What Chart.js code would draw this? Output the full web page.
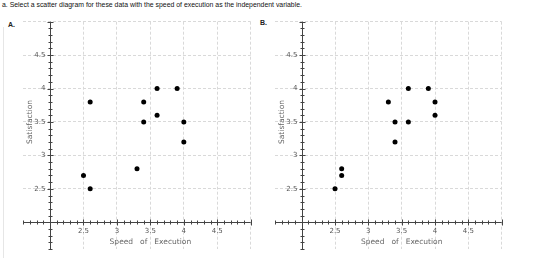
<!DOCTYPE html>
<html>
<head>
    <meta charset="utf-8">
    <title>Scatter diagrams</title>
    <style>
        body { margin: 0; width: 560px; height: 260px; background: #fff; position: relative; overflow: hidden; }
        .q { position: absolute; left: 2px; top: 1px; font: 6.9px "Liberation Sans", Arial, sans-serif; color: #111; white-space: nowrap; }
        .lbl { position: absolute; font: bold 7px "Liberation Sans", Arial, sans-serif; color: #222; }
        canvas { position: absolute; top: 0; }
        .frame { position: absolute; left: 3px; top: 27px; width: 0; height: 231px; border-left: 1px solid #e6e6e6; }
    </style>
    <script src="https://cdn.jsdelivr.net/npm/chart.js"></script>
</head>
<body>
    <div class="q">a. Select a scatter diagram for these data with the speed of execution as the independent variable.</div>
    <div class="frame"></div>
    <div class="lbl" style="left:8px;top:21px;">A.</div>
    <div class="lbl" style="left:260px;top:19px;">B.</div>
    <canvas id="chartA" width="280" height="260" style="left:0px"></canvas>
    <canvas id="chartB" width="300" height="260" style="left:260px"></canvas>

    <script>
        // data
        var speedA = [2.6, 2.5, 2.6, 3.3, 3.6, 3.9, 3.4, 3.4, 3.6, 4.0, 4.0];
        var satisfactionA = [3.8, 2.7, 2.5, 2.8, 4.0, 4.0, 3.8, 3.5, 3.6, 3.5, 3.2];
        var speedB = [2.5, 2.6, 2.6, 3.3, 3.4, 3.4, 3.6, 3.6, 3.9, 4.0, 4.0];
        var satisfactionB = [2.5, 2.8, 2.7, 3.8, 3.5, 3.2, 4.0, 3.5, 4.0, 3.8, 3.6];
        var gridValues = [2.5, 3, 3.5, 4, 4.5, 5];
        var xTickLabels = ['2.5', '3', '3.5', '4', '4.5'];
        var yTickLabels = ['2.5', '3', '3.5', '4', '4.5'];
        var axisMin = 1.6, axisMax = 5, axisCross = 2;

        // axes crossing at (2, 2) with minor ticks, drawn from the scales
        var crossAxes = {
            id: 'crossAxes',
            beforeDatasetsDraw: function (chart) {
                var ctx = chart.ctx, xs = chart.scales.x, ys = chart.scales.y, a = chart.chartArea;
                var ax = Math.round(xs.getPixelForValue(axisCross)) + 0.5;
                var ay = Math.round(ys.getPixelForValue(axisCross)) + 0.5;
                ctx.save();
                ctx.strokeStyle = '#444';
                ctx.lineWidth = 1;
                ctx.beginPath();
                ctx.moveTo(a.left, ay); ctx.lineTo(a.right, ay);
                ctx.moveTo(ax, a.top); ctx.lineTo(ax, a.bottom);
                for (var i = 16; i <= 50; i++) {
                    var v = i / 10;
                    var len = (i % 5 == 0) ? 3 : 2;
                    var px = Math.round(xs.getPixelForValue(v)) + 0.5;
                    ctx.moveTo(px, ay - len); ctx.lineTo(px, ay + len);
                    var py = Math.round(ys.getPixelForValue(v)) + 0.5;
                    ctx.moveTo(ax - len, py); ctx.lineTo(ax + len, py);
                }
                ctx.stroke();

                ctx.fillStyle = '#555';
                ctx.font = '7px "DejaVu Sans", sans-serif';
                ctx.textAlign = 'center';
                ctx.textBaseline = 'middle';
                for (var j = 0; j < xTickLabels.length; j++) {
                    ctx.fillText(xTickLabels[j], xs.getPixelForValue(parseFloat(xTickLabels[j])), ay + 8.5);
                }
                ctx.textAlign = 'right';
                for (var k = 0; k < yTickLabels.length; k++) {
                    ctx.fillText(yTickLabels[k], ax - 5, ys.getPixelForValue(parseFloat(yTickLabels[k])));
                }

                // axis titles
                ctx.fillStyle = '#666';
                ctx.font = '7.5px "DejaVu Sans", sans-serif';
                var words = ['Speed', 'of', 'Execution'];
                var gap = 7;
                var total = 0;
                words.forEach(function (w) { total += ctx.measureText(w).width; });
                total += gap * (words.length - 1);
                var x0 = xs.getPixelForValue(3.5) - total / 2;
                ctx.textAlign = 'left';
                words.forEach(function (w) {
                    ctx.fillText(w, x0, ay + 19.5);
                    x0 += ctx.measureText(w).width + gap;
                });
                ctx.translate(ax - 20, ys.getPixelForValue(3.5));
                ctx.rotate(-Math.PI / 2);
                ctx.textAlign = 'center';
                ctx.fillText('Satisfaction', 0, 0);
                ctx.restore();
            }
        };

        function makeChart(id, xs, ys, pad) {
            var points = [];
            for (var i = 0; i < xs.length; i++) {
                points.push({ x: xs[i], y: ys[i] });
            }
            var axisOpts = {
                type: 'linear',
                min: axisMin,
                max: axisMax,
                afterBuildTicks: function (scale) {
                    scale.ticks = gridValues.map(function (v) { return { value: v }; });
                },
                ticks: { display: false },
                grid: { color: '#d9d9d9', lineWidth: 1, drawTicks: false },
                border: { display: false, dash: [3, 2] }
            };
            return new Chart(document.getElementById(id), {
                type: 'scatter',
                data: {
                    datasets: [{
                        data: points,
                        backgroundColor: '#000',
                        borderColor: '#000',
                        pointRadius: 2.5,
                        pointBorderWidth: 0
                    }]
                },
                options: {
                    responsive: false,
                    animation: false,
                    devicePixelRatio: 1,
                    layout: { padding: pad },
                    plugins: { legend: { display: false }, tooltip: { enabled: false } },
                    scales: { x: axisOpts, y: Object.assign({}, axisOpts) }
                },
                plugins: [crossAxes]
            });
        }

        makeChart('chartA', speedA, satisfactionA, { left: 23.3, right: 29.3, top: 21.7, bottom: 11 });
        makeChart('chartB', speedB, satisfactionB, { left: 15, right: 58.3, top: 21.7, bottom: 11 });
    </script>
</body>
</html>
